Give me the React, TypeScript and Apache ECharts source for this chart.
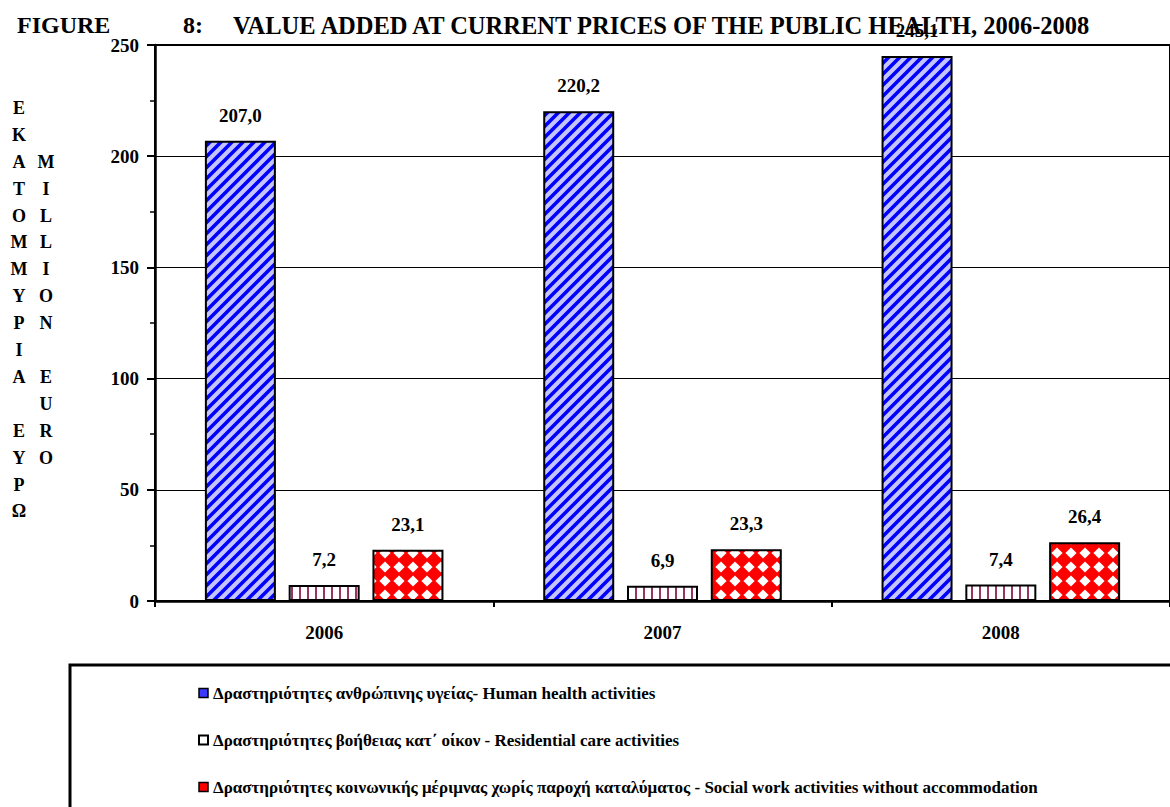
import React, { useEffect, useRef } from "react";
import * as echarts from "echarts";

const years = ["2006", "2007", "2008"];
const humanHealth = [207.0, 220.2, 245.1];
const residentialCare = [7.2, 6.9, 7.4];
const socialWork = [23.1, 23.3, 26.4];
const seriesNames = [
  "Δραστηριότητες ανθρώπινης υγείας- Human health activities",
  "Δραστηριότητες βοήθειας κατ΄ οίκον - Residential care activities",
  "Δραστηριότητες κοινωνικής μέριμνας χωρίς παροχή καταλύματος - Social work activities without accommodation",
];
const yTitleGreek = ["Ε", "Κ", "Α", "Τ", "Ο", "Μ", "Μ", "Υ", "Ρ", "Ι", "Α", "", "Ε", "Υ", "Ρ", "Ω"];
const yTitleEnglish = ["M", "I", "L", "L", "I", "O", "N", "", "E", "U", "R", "O"];

const FONT = "'Liberation Serif', 'Times New Roman', serif";

function svgPattern(svg: string, w: number, h: number) {
  return {
    image: "data:image/svg+xml;charset=utf-8," + encodeURIComponent(svg),
    repeat: "repeat",
    imageWidth: w,
    imageHeight: h,
  } as any;
}

const bluePattern = svgPattern(
  "<svg xmlns='http://www.w3.org/2000/svg' width='11' height='11'>" +
    "<rect width='11' height='11' fill='#c4c4ff'/>" +
    "<path d='M-3,3 L3,-3 M-2,13 L13,-2 M8,14 L14,8' stroke='#0000ff' stroke-width='3.6' fill='none'/>" +
    "</svg>",
  11,
  11
);

const purplePattern = svgPattern(
  "<svg xmlns='http://www.w3.org/2000/svg' width='8' height='4'>" +
    "<rect width='8' height='4' fill='#ffffff'/>" +
    "<rect x='3' y='0' width='2' height='4' fill='#993366'/>" +
    "</svg>",
  8,
  4
);

const redPattern = svgPattern(
  "<svg xmlns='http://www.w3.org/2000/svg' width='14' height='14'>" +
    "<rect width='14' height='14' fill='#ff0000'/>" +
    "<polygon points='7,1.4 12.6,7 7,12.6 1.4,7' fill='#ffffff'/>" +
    "</svg>",
  14,
  14
);

const fmt = (p: any) => Number(p.value).toFixed(1).replace(".", ",");

export default function App() {
  const ref = useRef<HTMLDivElement>(null);
  useEffect(() => {
    if (!ref.current) return;
    const chart = echarts.init(ref.current, null, { renderer: "svg" });
    const labelStyle = {
      show: true,
      position: "top",
      distance: 16,
      formatter: fmt,
      color: "#000",
      fontFamily: FONT,
      fontWeight: "bold",
      fontSize: 19,
    };
    const rowH = 26.9;
    const row0 = 108;
    chart.setOption({
      animation: false,
      backgroundColor: "#ffffff",
      grid: {
        left: 155,
        top: 45,
        width: 1021.5,
        height: 556,
        show: true,
        borderColor: "#000",
        borderWidth: 2,
        backgroundColor: "transparent",
      },
      legend: {
        orient: "vertical",
        left: 193,
        top: 679,
        itemWidth: 9,
        itemHeight: 9,
        itemGap: 29,
        icon: "rect",
        textStyle: {
          fontFamily: FONT,
          fontWeight: "bold",
          fontSize: 17,
          color: "#000",
          lineHeight: 18,
        },
        data: [
          { name: seriesNames[0], itemStyle: { color: "#3b3bff", borderColor: "#000", borderWidth: 1.5 } },
          { name: seriesNames[1], itemStyle: { color: "#ffffff", borderColor: "#000", borderWidth: 2 } },
          { name: seriesNames[2], itemStyle: { color: "#ff0000", borderColor: "#000", borderWidth: 1.5 } },
        ],
      },
      xAxis: {
        type: "category",
        data: years,
        axisLine: { show: true, lineStyle: { color: "#000", width: 2.5 } },
        axisTick: { show: true, length: 6, lineStyle: { color: "#000", width: 2 } },
        axisLabel: {
          color: "#000",
          fontFamily: FONT,
          fontWeight: "bold",
          fontSize: 19,
          margin: 22,
        },
        splitLine: { show: false },
      },
      yAxis: {
        type: "value",
        min: 0,
        max: 250,
        interval: 50,
        axisLine: { show: true, lineStyle: { color: "#000", width: 2.5 } },
        axisTick: { show: true, length: 8, lineStyle: { color: "#000", width: 2 } },
        minorTick: { show: true, splitNumber: 2, length: 5, lineStyle: { color: "#000", width: 1.5 } },
        axisLabel: {
          color: "#000",
          fontFamily: FONT,
          fontWeight: "bold",
          fontSize: 19,
          margin: 16,
        },
        splitLine: { show: true, lineStyle: { color: "#000", width: 1 } },
      },
      series: [
        {
          name: seriesNames[0],
          type: "bar",
          data: humanHealth,
          barWidth: 71,
          barGap: "18%",
          itemStyle: { color: bluePattern, borderColor: "#000", borderWidth: 2 },
          label: labelStyle,
        },
        {
          name: seriesNames[1],
          type: "bar",
          data: residentialCare,
          barWidth: 71,
          barGap: "18%",
          itemStyle: { color: purplePattern, borderColor: "#000", borderWidth: 2 },
          label: labelStyle,
        },
        {
          name: seriesNames[2],
          type: "bar",
          data: socialWork,
          barWidth: 71,
          barGap: "18%",
          itemStyle: { color: redPattern, borderColor: "#000", borderWidth: 2 },
          label: labelStyle,
        },
      ],
      graphic: [
        {
          type: "rect",
          shape: { x: 70, y: 665, width: 1200, height: 300 },
          style: { fill: "none", stroke: "#000", lineWidth: 3 },
          z: 0,
        },
        {
          type: "text",
          x: 17,
          y: 25,
          style: {
            text: "FIGURE",
            font: "bold 24px " + FONT,
            fill: "#000",
            verticalAlign: "middle",
            align: "left",
          },
        },
        {
          type: "text",
          x: 183,
          y: 25,
          style: {
            text: "8:",
            font: "bold 24px " + FONT,
            fill: "#000",
            verticalAlign: "middle",
            align: "left",
          },
        },
        {
          type: "text",
          x: 233,
          y: 25,
          style: {
            text: "VALUE ADDED AT CURRENT PRICES OF THE PUBLIC HEALTH, 2006-2008",
            font: "bold 24.5px " + FONT,
            fill: "#000",
            verticalAlign: "middle",
            align: "left",
          },
        },
        {
          type: "text",
          x: 19,
          y: row0 - rowH / 2,
          style: {
            text: yTitleGreek.join("\n"),
            font: "bold 18px " + FONT,
            lineHeight: rowH,
            fill: "#000",
            align: "center",
            verticalAlign: "top",
          },
        },
        {
          type: "text",
          x: 46,
          y: row0 + 2 * rowH - rowH / 2,
          style: {
            text: yTitleEnglish.join("\n"),
            font: "bold 18px " + FONT,
            lineHeight: rowH,
            fill: "#000",
            align: "center",
            verticalAlign: "top",
          },
        },
      ],
    });
    return () => chart.dispose();
  }, []);
  return (
    <div
      ref={ref}
      style={{ position: "fixed", left: 0, top: 0, width: 1170, height: 807, background: "#fff" }}
    />
  );
}
